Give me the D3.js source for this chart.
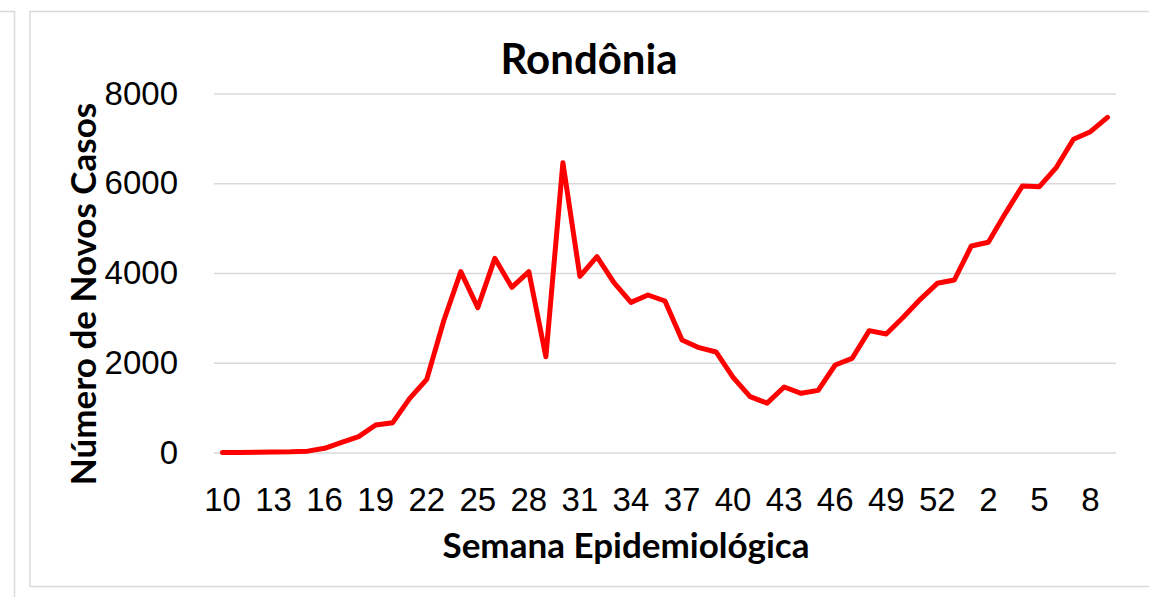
<!DOCTYPE html>
<html>
<head>
<meta charset="utf-8">
<script src="https://cdn.jsdelivr.net/npm/d3@7"></script>
<style>
  body { margin: 0; background: #fff; }
  svg { display: block; font-family: Lato, "Open Sans", sans-serif; }
</style>
</head>
<body>
<svg id="chart" width="1149" height="597"></svg>
<script>
// epidemiological weeks (2020 -> 2021)
let weeks = [10, 11, 12, 13, 14, 15, 16, 17, 18, 19, 20, 21, 22, 23, 24, 25, 26, 27, 28, 29,
             30, 31, 32, 33, 34, 35, 36, 37, 38, 39, 40, 41, 42, 43, 44, 45, 46, 47, 48, 49,
             50, 51, 52, 53, 1, 2, 3, 4, 5, 6, 7, 8, 9];

// new cases per week
let cases = [0, 0, 5, 10, 15, 30, 93, 227, 353, 613, 665, 1207, 1630, 2937, 4030, 3227, 4327, 3680, 4030, 2135,
             6458, 3925, 4364, 3784, 3346, 3510, 3376, 2507, 2336, 2240, 1675, 1244, 1100, 1460, 1319, 1385, 1950, 2099, 2715, 2641,
             3012, 3413, 3770, 3844, 4602, 4684, 5330, 5939, 5924, 6356, 6980, 7149, 7470];

let yTicks = [0, 2000, 4000, 6000, 8000];

let title = "Rondônia",
    xTitle = "Semana Epidemiológica",
    yTitle = "Número de Novos Casos";

// plot area
let margin = {top: 93.5, right: 33, bottom: 144.5, left: 214},
    width = 1149 - margin.left - margin.right,
    height = 597 - margin.top - margin.bottom;

let svg = d3.select("#chart");

// outer frames
svg.append("path")
  .attr("d", "M0,11.5 H14.5 V597")
  .attr("fill", "none").attr("stroke", "#d9d9d9").attr("stroke-width", 1.5);
svg.append("path")
  .attr("d", "M1149,11.5 H30 V586.5 H1149")
  .attr("fill", "none").attr("stroke", "#d9d9d9").attr("stroke-width", 1.5);

let g = svg.append("g")
  .attr("transform", "translate(" + margin.left + "," + margin.top + ")");

let x = d3.scaleBand()
  .domain(d3.range(weeks.length))
  .range([0, width]);

let y = d3.scaleLinear()
  .domain([0, 8000])
  .range([height, 0]);

// gridlines + y labels
let yAxis = g.append("g")
  .call(d3.axisLeft(y).tickValues(yTicks).tickFormat(d3.format("d")).tickSize(-width).tickPadding(36));
yAxis.select(".domain").remove();
yAxis.selectAll(".tick line").attr("stroke", "#d9d9d9").attr("stroke-width", 1.5);
yAxis.selectAll(".tick text")
  .attr("fill", "#000").style("font-size", "33px");

// x labels every 3 weeks
let xAxis = g.append("g")
  .attr("transform", "translate(0," + height + ")")
  .call(d3.axisBottom(x)
    .tickValues(d3.range(0, weeks.length, 3))
    .tickFormat(i => weeks[i])
    .tickSize(0)
    .tickPadding(35));
xAxis.select(".domain").remove();
xAxis.selectAll(".tick text")
  .attr("fill", "#000").style("font-size", "33px");

// the line
let line = d3.line()
  .x((d, i) => x(i) + x.bandwidth() / 2)
  .y(d => y(d));

g.append("path")
  .datum(cases)
  .attr("d", line)
  .attr("fill", "none")
  .attr("stroke", "#ff0000")
  .attr("stroke-width", 5)
  .attr("stroke-linejoin", "round")
  .attr("stroke-linecap", "round");

// titles
svg.append("text")
  .attr("x", 589).attr("y", 74)
  .attr("text-anchor", "middle")
  .style("font-size", "42px").style("font-weight", "bold")
  .text(title);

svg.append("text")
  .attr("x", 626).attr("y", 558)
  .attr("text-anchor", "middle")
  .style("font-size", "35px").style("font-weight", "bold")
  .text(xTitle);

svg.append("text")
  .attr("transform", "translate(96,294) rotate(-90)")
  .attr("text-anchor", "middle")
  .style("font-size", "35px").style("font-weight", "bold")
  .text(yTitle);
</script>
</body>
</html>
